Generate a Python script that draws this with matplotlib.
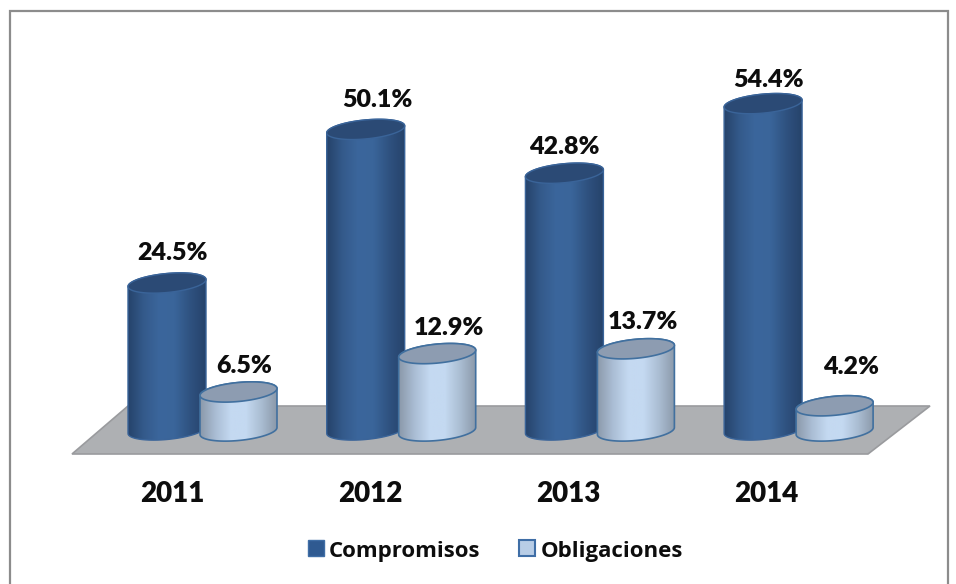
import numpy as np
import matplotlib
matplotlib.use('Agg')
import matplotlib.pyplot as plt
from matplotlib.colors import LinearSegmentedColormap
from matplotlib.patches import PathPatch, Polygon, Rectangle
from matplotlib.path import Path

plt.rcParams['font.family'] = ['Lato', 'DejaVu Sans']

# Data
years = ['2011', '2012', '2013', '2014']
compromisos = [24.5, 50.1, 42.8, 54.4]
obligaciones = [6.5, 12.9, 13.7, 4.2]

W, H = 956, 584
PX_PER_X = 198.7     # pixels for one category
PX_PER_Y = 6.0       # pixels for one percent
X0, Y0 = 167, 430    # pixel of first category at 0 %


def px(x, y):
    # pixel of the reference -> data coordinates
    return (x - X0) / PX_PER_X, (Y0 - y) / PX_PER_Y


fig = plt.figure(figsize=(W / 100, H / 100), dpi=100)
ax = fig.add_axes([0, 0, 1, 1])
ax.axis('off')

dark_cmap = LinearSegmentedColormap.from_list(
    'dark', ['#26436b', '#345a8b', '#3b669c', '#3a659a', '#2f5280', '#26436b'])
light_cmap = LinearSegmentedColormap.from_list(
    'light', ['#8b99aa', '#aabdd4', '#c4d9f1', '#c4d9f1', '#aabdd2', '#8b99aa'])

half_h = 9.5 / PX_PER_Y
tilt = 3.5 / PX_PER_Y   # rise of the ellipse's right end


def ellipse(xc, yc, half_w, t):
    return np.column_stack([xc + half_w * np.cos(t),
                            yc + half_h * np.sin(t) + tilt * np.cos(t)])


def cylinder(xc, base, value, half_w, cmap, top_color, edge, lw, z):
    top = base + value
    low = ellipse(xc, base, half_w, np.linspace(np.pi, 2 * np.pi, 60))
    high = ellipse(xc, top, half_w, np.linspace(0, np.pi, 60))
    body = Path(np.vstack([low, high, low[:1]]), closed=False)
    patch = PathPatch(body, facecolor='none', edgecolor=edge, lw=lw, zorder=z + 0.2)
    ax.add_patch(patch)
    grad = ax.imshow(np.linspace(0, 1, 128)[None, :], cmap=cmap, aspect='auto',
                     extent=[xc - half_w, xc + half_w, base - 3, top + 3], zorder=z)
    clip = PathPatch(body, transform=ax.transData, facecolor='none', edgecolor='none')
    ax.add_patch(clip)
    grad.set_clip_path(clip)
    cap = ellipse(xc, top, half_w, np.linspace(0, 2 * np.pi, 120))
    ax.add_patch(Polygon(cap, closed=True, facecolor=top_color, edgecolor=edge,
                         lw=lw, zorder=z + 0.3))


# floor
floor = [px(72, 454), px(128, 406), px(930, 406), px(868, 454)]
ax.add_patch(Polygon(floor, closed=True, facecolor='#aeb0b3', edgecolor='#9a9b9e',
                     lw=1.2, zorder=1))

x = np.arange(len(years))
offset = 71.5 / PX_PER_X
base_light = -1 / PX_PER_Y

for i in x:
    cylinder(i, 0, compromisos[i], 39 / PX_PER_X, dark_cmap, '#2b4a75', '#3a6499', 1.0, 3 + i)
    cylinder(i + offset, base_light, obligaciones[i], 38.5 / PX_PER_X, light_cmap,
             '#8d9cb1', '#41709f', 1.2, 3.5 + i)

# data labels (shift in pixels from the top of each cylinder)
dark_dx = [5, 12, 0, 5]
dark_dy = [30, 29, 26, 24]
light_dx = [6, 12, 7, 16]
light_dy = [26, 26, 27, 39]
for i in x:
    ax.text(i + dark_dx[i] / PX_PER_X, compromisos[i] + dark_dy[i] / PX_PER_Y,
            f'{compromisos[i]:.1f}%', ha='center', va='center',
            fontsize=18, fontweight='heavy', color='#0d0d0d', zorder=20)
    ax.text(i + offset + light_dx[i] / PX_PER_X, base_light + obligaciones[i] + light_dy[i] / PX_PER_Y,
            f'{obligaciones[i]:.1f}%', ha='center', va='center',
            fontsize=18, fontweight='heavy', color='#0d0d0d', zorder=20)

# category labels
label_y = px(0, 494)[1]
for i in x:
    ax.text(i + (5 + i * -0.5) / PX_PER_X, label_y, years[i], ha='center', va='center',
            fontsize=20, fontweight='heavy', color='#0d0d0d', zorder=20)

# legend
lx, ly = px(308, 556)
sx, sy = 16 / PX_PER_X, 16 / PX_PER_Y
ax.add_patch(Rectangle((lx, ly), sx, sy, facecolor='#2f5a91', edgecolor='#3f6ea6', lw=1, zorder=20))
ax.text(px(329, 0)[0], px(0, 551)[1], 'Compromisos', ha='left', va='center', family='Open Sans',
        fontsize=16, fontweight='bold', color='#0d0d0d', zorder=20)
lx2, _ = px(519, 0)
ax.add_patch(Rectangle((lx2, ly), sx, sy, facecolor='#b8cde6', edgecolor='#3f6ea6', lw=1.5, zorder=20))
ax.text(px(541, 0)[0], px(0, 551)[1], 'Obligaciones', ha='left', va='center', family='Open Sans',
        fontsize=16, fontweight='bold', color='#0d0d0d', zorder=20)

# outer frame (bottom edge runs past the picture)
x1, y1 = px(10, 600)
x2, y2 = px(948, 11)
ax.add_patch(Rectangle((x1, y1), x2 - x1, y2 - y1, facecolor='none', edgecolor='#8c8c8c',
                       lw=1.6, zorder=0.5))

xmin, ytop = px(0, 0)
xmax, ybot = px(W, H)
ax.set_xlim(xmin, xmax)
ax.set_ylim(ybot, ytop)

fig.savefig('out.png', dpi=100, facecolor='white')
